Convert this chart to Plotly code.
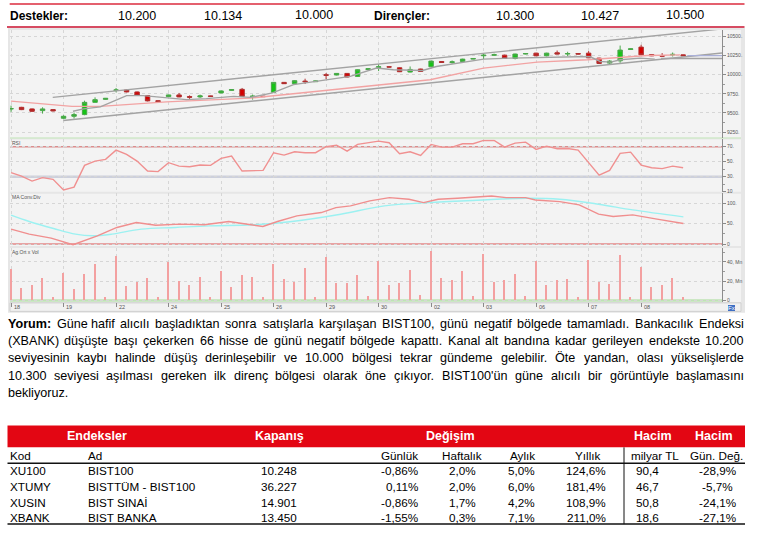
import plotly.graph_objects as go

W, H = 763, 544
FONT = "Liberation Sans, Arial, sans-serif"


def px(x):
    return x / W


def py(y):
    return 1 - y / H


# ---------------- data ----------------
supports = ["10.200", "10.134", "10.000"]
resistances = ["10.300", "10.427", "10.500"]

day_labels = ["18", "19", "22", "24", "25", "26", "29", "30", "02", "03", "06", "07", "08"]

opens = [9553, 9574, 9553, 9531, 9544, 9431, 9457, 9479, 9639, 9678,
         9795, 9801, 9775, 9727, 9661, 9714, 9736, 9714, 9710, 9723,
         9762, 9796, 9809, 9712, 9720, 9770, 9900, 9883, 9917, 9909,
         10000, 9996, 10017, 9978, 10069, 10096, 10104, 10091, 10035, 10074,
         10104, 10173, 10160, 10173, 10204, 10248, 10255, 10256, 10212, 10270,
         10282, 10247, 10287, 10270, 10277, 10282, 10217, 10152, 10182, 10330,
         10361, 10264, 10251, 10260, 10260]
highs = [9596, 9580, 9558, 9574, 9548, 9470, 9505, 9661, 9704, 9696,
         9827, 9810, 9780, 9730, 9664, 9740, 9762, 9730, 9740, 9725,
         9792, 9810, 9827, 9740, 9723, 9905, 9905, 9927, 9948, 9922,
         10022, 10022, 10022, 10070, 10082, 10139, 10108, 10096, 10108, 10078,
         10183, 10178, 10186, 10209, 10215, 10282, 10275, 10262, 10275, 10280,
         10287, 10287, 10316, 10300, 10280, 10309, 10221, 10191, 10381, 10342,
         10391, 10268, 10282, 10290, 10262]
lows = [9514, 9538, 9515, 9492, 9522, 9418, 9427, 9470, 9635, 9674,
        9770, 9770, 9725, 9652, 9645, 9710, 9706, 9684, 9697, 9714,
        9758, 9792, 9712, 9675, 9710, 9765, 9880, 9879, 9879, 9905,
        9944, 9992, 9965, 9974, 10065, 10048, 10096, 10035, 10030, 10039,
        10100, 10157, 10143, 10170, 10200, 10204, 10245, 10208, 10200, 10266,
        10243, 10240, 10266, 10243, 10266, 10217, 10143, 10134, 10156, 10326,
        10256, 10243, 10240, 10238, 10245]
closes = [9557, 9544, 9522, 9553, 9527, 9457, 9479, 9639, 9674, 9691,
          9801, 9775, 9730, 9658, 9648, 9736, 9710, 9706, 9723, 9717,
          9788, 9805, 9717, 9720, 9714, 9900, 9883, 9922, 9909, 9918,
          9992, 10017, 9970, 10065, 10078, 10104, 10100, 10039, 10069, 10043,
          10178, 10160, 10168, 10204, 10212, 10255, 10262, 10212, 10270, 10277,
          10247, 10282, 10270, 10277, 10270, 10221, 10147, 10178, 10322, 10338,
          10260, 10247, 10243, 10266, 10248]

# channel / moving average lines (bar index, value)
upper_ch_x = [3.97, 67.7]
upper_ch_y = [9704, 10599]
lower_ch_x = [4.98, 67.7]
lower_ch_y = [9402, 10283]
gray_ma_x = [5.9, 6.9, 8.5, 9.9, 11.0, 12.6, 14.8, 16.7, 18.6, 21.2, 22.8, 24.9, 26.9,
             29.1, 32.3, 34.8, 36.4, 39.2, 40.5, 45.0, 47.5, 55.1, 56.1, 57.1, 58.0, 59.9, 61.3]
gray_ma_y = [9522, 9553, 9579, 9665, 9727, 9727, 9697, 9675, 9688, 9717, 9704, 9762, 9870,
             9913, 9978, 10087, 10065, 10056, 10108, 10204, 10217, 10238, 10173, 10165, 10195, 10217, 10204]
flat_x = [61.9, 67.7]
flat_y = [10212, 10212]
last_x = [64.4, 67.7]
last_y = [10249, 10249]
pink_ma_x = [0.0, 5.8, 8.5, 14.8, 22.8, 35.1, 39.9, 45.0, 50.1, 54.9, 58.0, 60.6, 63.7]
pink_ma_y = [9655, 9587, 9587, 9645, 9694, 9870, 9935, 10087, 10165, 10195, 10225, 10251, 10260]

rsi = [35.3, 30.8, 24.1, 28.7, 26.4, 12.1, 16.1, 45.1, 50.8, 53.1,
       65.5, 59.7, 50.8, 37.5, 36.7, 48.7, 44.1, 43.3, 45.5, 45.1,
       54.4, 57.5, 37.5, 38.4, 38.4, 62.0, 58.8, 63.3, 62.0, 62.0,
       70.0, 72.1, 64.1, 73.1, 75.3, 77.5, 75.3, 60.7, 63.3, 58.4,
       73.1, 69.5, 69.5, 74.0, 74.0, 78.4, 78.4, 69.5, 74.8, 76.1,
       66.4, 70.8, 67.3, 67.7, 65.5, 48.7, 32.1, 38.4, 61.1, 62.8,
       45.5, 42.0, 40.7, 44.1, 42.0]

macd_x = [0.0, 1.73, 3.82, 5.9, 8.22, 10.08, 11.93, 13.78, 16.1, 18.42, 20.73, 22.59,
          23.98, 25.37, 27.22, 29.54, 30.93, 32.32, 34.17, 36.03, 37.89, 39.28, 40.67,
          42.51, 44.37, 45.76, 47.15, 49.0, 49.93, 52.25, 54.1, 55.95, 57.34, 59.2, 61.51, 64.02]
macd_y = [36.6, 24.4, 14.6, -1.6, 20.3, 40.7, 52.9, 46.3, 48.8, 47.2, 55.3, 48.8,
          43.1, 55.3, 69.0, 77.2, 89.4, 93.5, 105.7, 113.8, 109.8, 101.6, 109.8,
          112.2, 115.4, 117.9, 113.8, 113.8, 108.1, 104.1, 96.0, 73.2, 67.5, 71.5, 61.0, 50.4]
signal_x = [0.0, 1.73, 4.05, 6.13, 7.76, 9.61, 12.39, 15.64, 18.88, 23.05, 26.76,
            31.39, 35.56, 39.73, 44.37, 49.0, 52.25, 55.95, 59.2, 64.02]
signal_y = [70.7, 55.3, 38.2, 24.4, 20.3, 24.4, 36.6, 40.7, 44.7, 47.2, 55.3,
            73.2, 93.5, 101.6, 107.3, 112.2, 109.8, 97.6, 83.7, 66.6]

volume_mn = [32.1, 12.8, 15.5, 23.5, 3.5, 28.7, 12.1, 27.6, 38.0, 3.5,
             45.9, 14.5, 18.7, 23.1, 3.5, 39.7, 20.4, 16.2, 24.5, 3.5,
             30.7, 13.5, 26.6, 23.8, 3.1, 38.0, 21.8, 19.3, 33.2, 3.8,
             44.9, 18.3, 18.3, 25.9, 4.1, 40.8, 15.9, 18.3, 31.1, 5.2,
             50.8, 23.1, 21.4, 30.7, 4.5, 47.7, 19.3, 21.1, 27.6, 4.1,
             41.1, 16.2, 20.7, 22.5, 3.8, 42.1, 19.3, 17.3, 47.0, 3.8,
             34.5, 14.2, 16.2, 23.1, 3.8]

comment_lines = [
    "Yorum: Güne hafif alıcılı başladıktan sonra satışlarla karşılaşan BIST100, günü negatif bölgede tamamladı. Bankacılık Endeksi",
    "(XBANK) düşüşte başı çekerken 66 hisse de günü negatif bölgede kapattı. Kanal alt bandına kadar gerileyen endekste 10.200",
    "seviyesinin kaybı halinde düşüş derinleşebilir ve 10.000 bölgesi tekrar gündeme gelebilir. Öte yandan, olası yükselişlerde",
    "10.300 seviyesi aşılması gereken ilk direnç bölgesi olarak öne çıkıyor. BIST100'ün güne alıcılı bir görüntüyle başlamasını",
    "bekliyoruz.",
]

kod = ["XU100", "XTUMY", "XUSIN", "XBANK"]
ad = ["BIST100", "BISTTÜM - BIST100", "BIST SINAİ", "BIST BANKA"]
kapanis = ["10.248", "36.227", "14.901", "13.450"]
gunluk = ["-0,86%", "0,11%", "-0,86%", "-1,55%"]
haftalik = ["2,0%", "2,0%", "1,7%", "0,3%"]
aylik = ["5,0%", "6,0%", "4,2%", "7,1%"]
yillik = ["124,6%", "181,4%", "108,9%", "211,0%"]
hacim = ["90,4", "46,7", "50,8", "18,6"]
hacim_deg = ["-28,9%", "-5,7%", "-24,1%", "-27,1%"]

n_bars = len(closes)
bars = list(range(n_bars))
day_ticks = list(range(0, n_bars, 5))

fig = go.Figure()


def text(x, y, s, size, color="#000000", bold=False, anchor="left", family=FONT, xref="paper"):
    fig.add_annotation(
        x=x if xref != "paper" else px(x), y=py(y), xref=xref, yref="paper",
        text=f"<b>{s}</b>" if bold else s, showarrow=False,
        xanchor=anchor, yanchor="middle", borderpad=0, borderwidth=0,
        font=dict(size=size, color=color, family=family),
    )


def rect(x0, y0, x1, y1, fill, line=None, lw=0):
    fig.add_shape(type="rect", xref="paper", yref="paper", layer="below",
                  x0=px(x0), x1=px(x1), y0=py(y1), y1=py(y0), fillcolor=fill,
                  line=dict(color=line or fill, width=lw))


def hline(x0, x1, y, color, width):
    fig.add_shape(type="line", xref="paper", yref="paper", layer="above",
                  x0=px(x0), x1=px(x1), y0=py(y), y1=py(y), line=dict(color=color, width=width))


# ---------------- header ----------------
hline(9.7, 744.5, 4, "#e4606e", 2)
hline(7, 744.5, 27, "#c8102e", 1.5)
text(10, 16, "Destekler:", 12, bold=True)
for v, cx in zip(supports, [136.5, 223, 314]):
    text(cx, 16 if v != "10.000" else 15, v, 12.5, anchor="center")
text(374, 16, "Dirençler:", 12, bold=True)
for v, cx in zip(resistances, [515, 600, 685]):
    text(cx, 16 if v != "10.500" else 15, v, 12.5, anchor="center")

# ---------------- chart frame ----------------
rect(8, 28, 745, 314, "#e6e6e6")
rect(10, 30, 741, 139, "#f3f3f3")
rect(10, 140, 741, 192.5, "#f3f3f3")
rect(10, 194.5, 741, 247, "#f3f3f3")
rect(10, 249, 741, 303, "#f3f3f3")
rect(10, 304, 741, 312.5, "#f1f1f1", "#cfcfcf", 1)

# panel reference lines
fig.add_shape(type="line", xref="paper", yref="y", layer="below", x0=px(10), x1=px(741),
              y0=9166.7, y1=9166.7, line=dict(color="#bfe3b5", width=2))
fig.add_shape(type="line", xref="paper", yref="y2", layer="below", x0=px(10), x1=px(722),
              y0=70, y1=70, line=dict(color="#dc8d8d", width=1.6))
fig.add_shape(type="line", xref="paper", yref="y2", layer="below", x0=px(10), x1=px(722),
              y0=30, y1=30, line=dict(color="#cdd0dc", width=2.5))
fig.add_shape(type="line", xref="paper", yref="y3", layer="below", x0=px(10), x1=px(722),
              y0=0, y1=0, line=dict(color="#e7a3a3", width=2))
fig.add_shape(type="line", xref="paper", yref="y4", layer="below", x0=px(10), x1=px(722),
              y0=0, y1=0, line=dict(color="#bfe3b5", width=2.5))

# ---------------- traces ----------------
fig.add_trace(go.Scatter(x=pink_ma_x, y=pink_ma_y, mode="lines",
                         line=dict(color="#f2a3a3", width=1.4), xaxis="x", yaxis="y"))
for xs, ys in [(upper_ch_x, upper_ch_y), (lower_ch_x, lower_ch_y), (gray_ma_x, gray_ma_y), (flat_x, flat_y)]:
    fig.add_trace(go.Scatter(x=xs, y=ys, mode="lines",
                             line=dict(color="#a3a3a3", width=1.4), xaxis="x", yaxis="y"))
fig.add_trace(go.Scatter(x=last_x, y=last_y, mode="lines",
                         line=dict(color="#aab0d8", width=1.4), xaxis="x", yaxis="y"))
fig.add_trace(go.Candlestick(
    x=bars, open=opens, high=highs, low=lows, close=closes,
    increasing=dict(fillcolor="#16c416", line=dict(color="#4aa84a", width=1)),
    decreasing=dict(fillcolor="#d40000", line=dict(color="#b03030", width=1)),
    whiskerwidth=0, xaxis="x", yaxis="y"))

fig.add_trace(go.Scatter(x=bars, y=rsi, mode="lines",
                         line=dict(color="#f09090", width=1.4), xaxis="x2", yaxis="y2"))
fig.add_trace(go.Scatter(x=signal_x, y=signal_y, mode="lines", line_shape="spline",
                         line=dict(color="#9cf1f1", width=1.4), xaxis="x3", yaxis="y3"))
fig.add_trace(go.Scatter(x=macd_x, y=macd_y, mode="lines",
                         line=dict(color="#f08e8e", width=1.4), xaxis="x3", yaxis="y3"))
fig.add_trace(go.Bar(x=bars, y=volume_mn, width=0.15, marker=dict(color="#f3a0a0", line=dict(width=0)),
                     xaxis="x4", yaxis="y4"))

# ---------------- axes ----------------
xdom = [px(10), px(722)]
xcommon = dict(domain=xdom, range=[-0.1, 67.7], tickvals=day_ticks, showticklabels=False,
               showgrid=True, gridcolor="#d6d6d6", griddash="dot", gridwidth=1,
               zeroline=False, showline=False, fixedrange=True)
ycommon = dict(side="right", ticks="outside", ticklen=3, tickcolor="#8a8a8a",
               tickfont=dict(size=5, color="#555555", family=FONT),
               showgrid=True, gridcolor="#d6d6d6", griddash="dot",
               showline=True, linecolor="#8c8c8c", linewidth=1, zeroline=False, fixedrange=True)

fig.update_layout(
    width=W, height=H, margin=dict(l=0, r=0, t=0, b=0),
    paper_bgcolor="white", plot_bgcolor="rgba(0,0,0,0)", showlegend=False,
    boxgap=0.4, bargap=0,
    xaxis=dict(xcommon, anchor="y", rangeslider=dict(visible=False)),
    xaxis2=dict(xcommon, anchor="y2"),
    xaxis3=dict(xcommon, anchor="y3"),
    xaxis4=dict(xcommon, anchor="y4", ticks="outside", ticklen=4, tickcolor="#8a8a8a"),
    yaxis=dict(ycommon, anchor="x", domain=[py(139), py(30)], range=[9166.7, 10585.9],
               tickvals=[9250, 9500, 9750, 10000, 10250, 10500],
               ticktext=["9250.", "9500.", "9750.", "10000.", "10250.", "10500."],
               minor=dict(ticks="outside", ticklen=2, dtick=125, tickcolor="#9a9a9a", showgrid=False)),
    yaxis2=dict(ycommon, anchor="x2", domain=[py(193), py(140)], range=[9.1, 79.7],
                tickvals=[10, 30, 50, 70], ticktext=["10", "30.", "50.", "70."],
                minor=dict(ticks="outside", ticklen=2, dtick=10, tickcolor="#9a9a9a", showgrid=False)),
    yaxis3=dict(ycommon, anchor="x3", domain=[py(247), py(194)], range=[-4.9, 124.4],
                tickvals=[0, 50, 100], ticktext=["0", "50.", "100."],
                minor=dict(ticks="outside", ticklen=2, dtick=25, tickcolor="#9a9a9a", showgrid=False)),
    yaxis4=dict(ycommon, anchor="x4", domain=[py(303), py(249)], range=[-1.55, 54.4],
                tickvals=[0, 20, 40], ticktext=["0", "20, Mn", "40, Mn"],
                minor=dict(ticks="outside", ticklen=2, dtick=10, tickcolor="#9a9a9a", showgrid=False)),
)

# panel captions and date labels
text(12, 143.5, "RSI", 5, color="#555555")
text(12, 197.5, "MA Conv.Div", 5, color="#555555")
text(12, 252.5, "Ag.Ort x Vol", 5, color="#555555")
for i, lab in zip(day_ticks, day_labels):
    text(i + 0.25, 308.5, lab, 5.5, color="#555555", xref="x4")
fig.add_annotation(x=px(735), y=py(309), xref="paper", yref="paper", text="Fx", showarrow=False,
                   font=dict(size=6, color="white", family=FONT), bgcolor="#3f6fc4",
                   borderpad=0, borderwidth=0)

# ---------------- comment paragraph (justified) ----------------
REG = {" ": 278, "(": 333, ")": 333, ",": 278, ".": 278, ":": 278, "'": 191, "-": 333, "%": 889,
       "a": 556, "b": 556, "c": 500, "d": 556, "e": 556, "f": 278, "g": 556, "h": 556, "i": 222,
       "j": 222, "k": 500, "l": 222, "m": 833, "n": 556, "o": 556, "p": 556, "q": 556, "r": 333,
       "s": 500, "t": 278, "u": 556, "v": 500, "w": 722, "x": 500, "y": 500, "z": 500,
       "ı": 278, "ş": 500, "ç": 500, "ğ": 556, "ü": 556, "ö": 556,
       "A": 667, "B": 667, "C": 722, "D": 722, "E": 667, "I": 278, "K": 667, "N": 722,
       "O": 778, "S": 667, "T": 611, "X": 667, "Y": 667, "Ö": 778}
BOLD = {"Y": 667, "o": 611, "r": 389, "u": 611, "m": 889, ":": 333}


def width(word, size, bold=False):
    table = BOLD if bold else REG
    return sum(table.get(c, REG.get(c, 556)) for c in word) * size / 1000


fs = 12.6
left, right = 7.5, 744
line_y = [325, 342, 359.5, 377, 394]
for k, (line, ly) in enumerate(zip(comment_lines, line_y)):
    words = line.split(" ")
    bold_flags = [k == 0 and j == 0 for j in range(len(words))]
    widths = [width(w, fs, b) for w, b in zip(words, bold_flags)]
    if k < len(comment_lines) - 1:
        gap = (right - left - sum(widths)) / (len(words) - 1)
    else:
        gap = 278 * fs / 1000
    x = left
    for w, b, ww in zip(words, bold_flags, widths):
        text(x, ly, w, fs, bold=b)
        x += ww + gap

# ---------------- table ----------------
rect(7.5, 427, 745, 449, "#e30613")
text(97, 438, "Endeksler", 12.5, color="white", bold=True, anchor="center")
text(279, 438, "Kapanış", 12.5, color="white", bold=True, anchor="center")
text(450, 438, "Değişim", 12.5, color="white", bold=True, anchor="center")
text(653, 438, "Hacim", 12.5, color="white", bold=True, anchor="center")
text(714, 438, "Hacim", 12.5, color="white", bold=True, anchor="center")

hdr_y = 457.5
tfs = 11.7
text(10, hdr_y, "Kod", tfs)
text(88, hdr_y, "Ad", tfs)
text(418, hdr_y, "Günlük", tfs, anchor="right")
text(461.5, hdr_y, "Haftalık", tfs, anchor="center")
text(535, hdr_y, "Aylık", tfs, anchor="right")
text(600, hdr_y, "Yıllık", tfs, anchor="right")
text(655, hdr_y, "milyar TL", tfs, anchor="center")
text(716, hdr_y, "Gün. Değ.", tfs, anchor="center")

hline(7.5, 745, 465, "#111111", 1.6)
hline(7.5, 745, 526, "#111111", 1.6)
fig.add_shape(type="line", xref="paper", yref="paper", x0=px(624), x1=px(624),
              y0=py(449), y1=py(526), line=dict(color="#111111", width=1))

row_y = [472, 488, 504, 519.5]
for r, ry in enumerate(row_y):
    text(10, ry, kod[r], tfs)
    text(88, ry, ad[r], tfs)
    text(279, ry, kapanis[r], tfs, anchor="center")
    text(418, ry, gunluk[r], tfs, anchor="right")
    text(463, ry, haftalik[r], tfs, anchor="center")
    text(535, ry, aylik[r], tfs, anchor="right")
    text(606, ry, yillik[r], tfs, anchor="right")
    text(647.5, ry, hacim[r], tfs, anchor="center")
    text(717, ry, hacim_deg[r], tfs, anchor="center")

fig.write_html("out.html", config={"displayModeBar": False},
               post_script="document.body.style.margin='0';")
